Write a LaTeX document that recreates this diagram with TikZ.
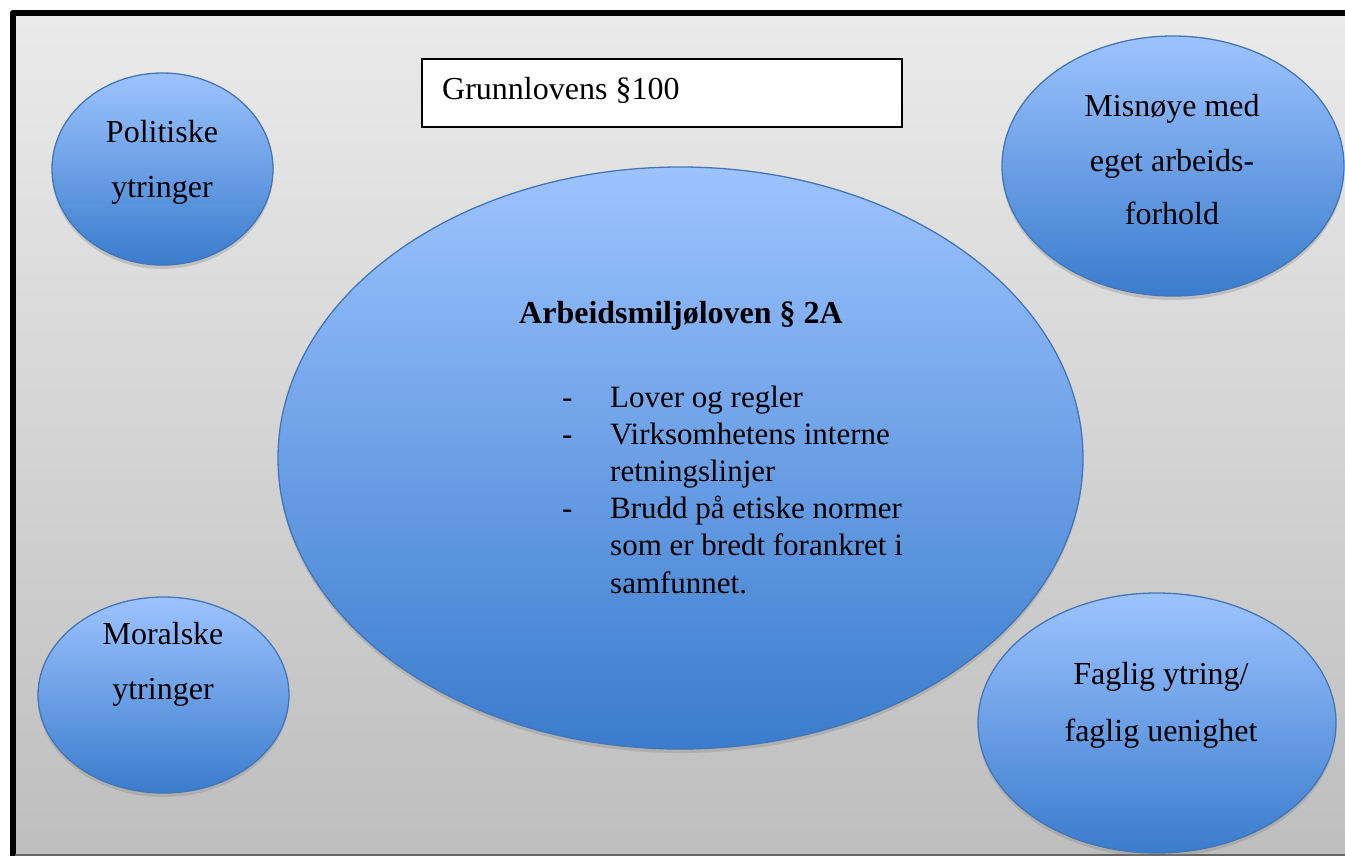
\documentclass[tikz,border=0pt]{standalone}
\usepackage{fontspec}
\setmainfont{Liberation Serif}
\usetikzlibrary{shapes.geometric,shadows}
\definecolor{bluetop}{RGB}{157,195,255}
\definecolor{bluebot}{RGB}{58,124,205}
\definecolor{blueedge}{RGB}{68,118,182}
\definecolor{bgtop}{RGB}{234,234,234}
\definecolor{bgbot}{RGB}{190,190,190}
\begin{document}
\begin{tikzpicture}[x=1pt,y=-1pt,
  bubble/.style={ellipse, draw=blueedge, line width=1.3pt, top color=bluetop, bottom color=bluebot, inner sep=0pt,
    drop shadow={shadow xshift=0pt, shadow yshift=-4pt, opacity=0.3}},
  lbl/.style={font=\fontsize{32}{36}\selectfont, anchor=base, inner sep=0pt},
  item/.style={font=\fontsize{31}{36}\selectfont, anchor=base west, inner sep=0pt}]
\useasboundingbox (0,0) rectangle (1345,855);
% background panel
\fill[white] (0,0) rectangle (1345,855);
\fill[top color=bgtop, bottom color=bgbot] (15,16) rectangle (1365,857);
\draw[line width=6pt, line join=round] (12.5,870) -- (12.5,13) -- (1370,13);
\draw[black!60, line width=2pt] (15,854.5) -- (1370,854.5);
% title box
\node[draw, line width=1.5pt, fill=white, minimum width=480pt, minimum height=68pt, inner sep=0pt] (gl) at (662,93) {};
\node[lbl, anchor=base west] (glt) at (442,99) {Grunnlovens §100};
% bubbles
\node[bubble, minimum width=221pt, minimum height=192pt] (pol) at (162.5,169) {};
\node[bubble, minimum width=342pt, minimum height=260pt] (mis) at (1173,166) {};
\node[bubble, minimum width=805pt, minimum height=582pt] (arb) at (680.5,458) {};
\node[bubble, minimum width=251pt, minimum height=196pt] (mor) at (163.5,695) {};
\node[bubble, minimum width=358pt, minimum height=260pt] (fag) at (1157,723) {};
% labels
\node[lbl] (pol1) at (162,142) {Politiske};
\node[lbl] (pol2) at (162,197) {ytringer};
\node[lbl] (mis1) at (1172,116) {Misnøye med};
\node[lbl] (mis2) at (1172,171) {eget arbeids-};
\node[lbl] (mis3) at (1172,224) {forhold};
\node[lbl] (mor1) at (163,644) {Moralske};
\node[lbl] (mor2) at (163,699) {ytringer};
\node[lbl] (fag1) at (1161,684) {Faglig ytring/};
\node[lbl] (fag2) at (1161,741) {faglig uenighet};
\node[lbl, font=\fontsize{32}{36}\selectfont\bfseries] (arbt) at (681,323) {Arbeidsmiljøloven § 2A};
% list
\node[item] (d1) at (562,407) {-};
\node[item] (d2) at (562,444) {-};
\node[item] (d3) at (562,518) {-};
\node[item] (i1) at (610,407) {Lover og regler};
\node[item] (i2) at (610,444) {Virksomhetens interne};
\node[item] (i3) at (610,481) {retningslinjer};
\node[item] (i4) at (610,518) {Brudd på etiske normer};
\node[item] (i5) at (610,555) {som er bredt forankret i};
\node[item] (i6) at (610,593) {samfunnet.};
\end{tikzpicture}
\end{document}
